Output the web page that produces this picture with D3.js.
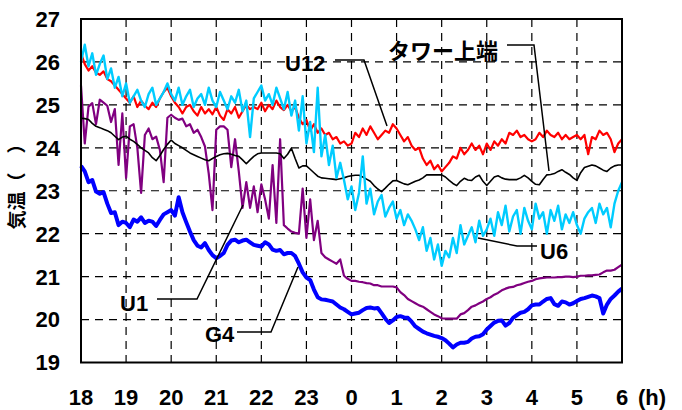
<!DOCTYPE html>
<html>
<head>
<meta charset="utf-8">
<style>
  body { margin: 0; background: #fff; }
  .tick-label { font-family: "Liberation Sans", Arial, sans-serif; font-weight: bold; font-size: 22px; fill: #000; }
  .note { font-family: "Liberation Sans", Arial, sans-serif; font-weight: bold; font-size: 22px; fill: #000; }
  .jp { font-family: "Noto Sans CJK JP", sans-serif; font-weight: bold; }
  .grid { stroke: #000; stroke-width: 1.2px; stroke-dasharray: 8,6; fill: none; }
  .leader { stroke: #000; stroke-width: 1.5px; fill: none; }
</style>
</head>
<body>
<svg id="chart" width="682" height="410"></svg>
<script src="https://cdn.jsdelivr.net/npm/d3@7/dist/d3.min.js"></script>
<script>
// logger samples every 5 minutes, from 18:00 to 06:00
var stepHours = 5 / 60;
var hourLabels = ["18","19","20","21","22","23","0","1","2","3","4","5","6"];
var yTicks = [19, 20, 21, 22, 23, 24, 25, 26, 27];

var u12 = [
  26.2,25.95,25.8,25.9,25.75,25.7,25.78,25.6,25.55,25.45,25.35,25.25,
  25.15,25.05,25.2,24.95,25.1,24.98,24.9,25.05,24.95,25.15,25.3,25.4,
  25.2,25.05,24.95,24.8,24.95,25.0,24.85,24.75,24.95,24.8,24.9,24.78,
  24.95,24.75,24.65,24.9,24.8,24.95,24.7,24.85,25.0,24.9,24.95,24.9,
  25.05,24.85,25.0,24.9,25.1,24.95,24.88,25.0,24.85,24.95,24.7,24.55,
  24.65,24.4,24.55,24.35,24.45,24.3,24.35,24.2,24.25,24.1,24.15,24.05,
  24.1,24.35,24.25,24.45,24.3,24.5,24.35,24.2,24.3,24.4,24.35,24.55,
  24.45,24.3,24.15,24.25,24.05,23.95,24.0,23.75,23.6,23.7,23.5,23.6,
  23.45,23.55,23.65,23.8,23.75,24.0,23.85,23.95,24.1,23.95,24.05,23.85,
  24.1,23.95,24.15,24.05,24.2,24.1,24.35,24.3,24.4,24.25,24.3,24.2,
  24.15,24.2,24.35,24.25,24.4,24.3,24.25,24.35,24.2,24.3,24.2,24.25,
  24.3,24.2,24.3,23.85,24.25,24.2,24.4,24.3,24.35,24.2,23.9,24.1,
  24.2
];

var u6 = [
  26.0,26.4,25.9,26.2,25.7,25.95,26.15,25.6,25.85,25.4,25.65,25.2,
  25.5,25.05,25.2,25.35,25.1,24.95,25.25,25.4,25.0,25.15,25.3,25.5,
  25.25,25.1,25.4,25.0,25.2,25.35,24.95,25.15,25.25,25.0,25.4,25.1,
  24.95,25.3,25.1,24.9,25.2,25.05,25.35,24.85,25.1,24.25,25.15,25.3,
  25.45,25.1,25.25,25.0,25.4,25.15,24.9,25.3,24.75,25.1,24.4,25.2,
  24.1,24.6,23.9,25.4,23.8,24.3,23.6,24.05,23.3,23.65,23.25,22.8,
  23.1,22.55,22.95,23.8,22.7,23.05,22.45,22.75,22.9,22.4,22.6,22.75,
  22.35,22.55,22.2,22.45,22.3,22.1,21.85,22.15,21.6,21.9,21.4,21.75,
  21.25,21.6,21.45,21.9,21.55,22.2,21.75,21.95,22.15,21.8,22.3,21.95,
  22.1,22.35,21.95,22.5,22.2,22.65,22.05,22.4,22.55,22.0,22.6,22.3,
  22.1,22.7,22.35,22.5,22.0,22.55,22.3,22.65,22.1,22.45,22.25,22.5,
  22.2,22.0,22.35,22.5,22.6,22.25,22.7,22.45,22.6,22.15,22.7,23.0,
  23.2
];

var tower = [
  24.69,24.68,24.66,24.57,24.5,24.47,24.43,24.4,24.35,24.27,24.19,24.25,
  24.27,24.2,24.15,24.08,24.0,23.94,23.88,23.77,23.7,23.82,23.96,24.08,
  24.18,24.1,24.05,24.0,23.94,23.88,23.84,23.8,23.76,23.72,23.7,23.75,
  23.8,23.84,23.86,23.87,23.85,23.82,23.8,23.72,23.63,23.72,23.8,23.86,
  23.88,23.88,23.88,23.88,23.88,23.86,23.75,23.85,23.99,23.75,23.53,23.58,
  23.58,23.5,23.42,23.34,23.3,23.29,23.28,23.27,23.26,23.28,23.3,23.33,
  23.35,23.36,23.36,23.32,23.27,23.22,23.12,23.04,22.98,23.06,23.15,23.23,
  23.24,23.2,23.16,23.14,23.18,23.22,23.25,23.3,23.37,23.37,23.37,23.37,
  23.37,23.32,23.24,23.17,23.12,23.22,23.29,23.25,23.24,23.32,23.36,23.22,
  23.12,23.22,23.32,23.35,23.3,23.27,23.26,23.26,23.26,23.3,23.36,23.3,
  23.22,23.15,23.14,23.26,23.37,23.38,23.4,23.45,23.49,23.43,23.38,23.3,
  23.24,23.42,23.54,23.57,23.6,23.58,23.53,23.48,23.45,23.53,23.58,23.6,
  23.6
];

var u1 = [
  25.45,24.1,24.96,25.04,24.55,25.12,25.05,24.98,24.6,24.9,23.6,24.8,
  23.3,24.5,24.55,24.0,22.95,24.3,24.45,24.2,24.26,23.95,23.2,24.7,
  24.77,24.7,24.65,24.68,24.5,24.55,24.35,24.42,24.25,24.03,23.4,22.55,
  24.42,24.5,24.5,24.42,23.55,24.2,23.45,22.6,23.2,22.6,23.1,22.5,
  23.15,22.8,22.35,23.6,22.25,24.2,22.2,22.12,22.05,22.02,22.0,23.05,
  21.9,22.8,21.85,22.3,21.55,21.45,21.4,21.35,21.3,21.4,21.02,20.95,
  20.9,20.9,20.88,20.87,20.85,20.84,20.8,20.8,20.77,20.77,20.77,20.77,
  20.75,20.64,20.57,20.48,20.43,20.38,20.33,20.3,20.24,20.18,20.12,20.08,
  20.03,20.02,20.02,20.02,20.02,20.12,20.15,20.22,20.3,20.33,20.38,20.42,
  20.48,20.52,20.58,20.62,20.68,20.72,20.75,20.76,20.8,20.82,20.85,20.88,
  20.9,20.94,20.96,20.97,20.98,20.98,20.98,20.99,20.99,21.0,21.0,20.99,
  21.0,21.02,21.02,21.03,21.03,21.04,21.05,21.1,21.14,21.14,21.16,21.22,
  21.28
];

var g4 = [
  23.58,23.45,23.2,23.25,22.98,22.93,22.97,22.7,22.48,22.5,22.2,22.28,
  22.25,22.15,22.33,22.28,22.38,22.25,22.3,22.28,22.18,22.32,22.45,22.5,
  22.55,22.42,22.85,22.5,22.27,22.05,21.85,21.72,21.68,21.78,21.62,21.5,
  21.43,21.48,21.55,21.74,21.84,21.86,21.8,21.84,21.86,21.8,21.74,21.72,
  21.7,21.8,21.75,21.63,21.6,21.62,21.52,21.55,21.55,21.48,21.3,21.1,
  20.98,20.92,20.7,20.52,20.47,20.46,20.44,20.42,20.35,20.28,20.24,20.18,
  20.12,20.14,20.16,20.22,20.27,20.28,20.26,20.27,20.15,20.02,19.92,19.98,
  20.06,20.08,20.05,20.04,19.95,19.84,19.78,19.72,19.68,19.65,19.62,19.6,
  19.57,19.52,19.44,19.35,19.42,19.46,19.46,19.48,19.56,19.6,19.61,19.66,
  19.77,19.85,19.93,19.97,19.98,19.86,19.92,20.04,20.1,20.16,20.18,20.24,
  20.33,20.35,20.35,20.42,20.48,20.5,20.36,20.32,20.42,20.4,20.35,20.38,
  20.43,20.48,20.5,20.53,20.56,20.54,20.5,20.14,20.35,20.48,20.56,20.65,
  20.72
];

var svg = d3.select("#chart");
var plotL = 81, plotR = 622, plotT = 19, plotB = 362.5;

var x = d3.scaleLinear().domain([0, 12]).range([plotL, plotR]);
var y = d3.scaleLinear().domain([19, 27]).range([plotB, plotT]);

// grid
svg.append("g").selectAll("line").data(d3.range(1, 12)).join("line")
  .attr("class", "grid")
  .attr("x1", function(d){ return x(d); }).attr("x2", function(d){ return x(d); })
  .attr("y1", plotT).attr("y2", plotB);
svg.append("g").selectAll("line").data(yTicks.slice(1, -1)).join("line")
  .attr("class", "grid")
  .attr("x1", plotL).attr("x2", plotR)
  .attr("y1", function(d){ return y(d); }).attr("y2", function(d){ return y(d); });

// series
var line = d3.line()
  .x(function(d, i){ return x(i * stepHours); })
  .y(function(d){ return y(d); });

var series = [
  { v: u1, color: "#800080", w: 2.2 },
  { v: tower, color: "#000000", w: 1.6 },
  { v: u12, color: "#ff0000", w: 2.2 },
  { v: u6, color: "#00ccff", w: 2.4 },
  { v: g4, color: "#0000ff", w: 4 }
];
svg.append("g").selectAll("path").data(series).join("path")
  .attr("d", function(d){ return line(d.v); })
  .attr("fill", "none")
  .attr("stroke", function(d){ return d.color; })
  .attr("stroke-width", function(d){ return d.w; })
  .attr("stroke-linejoin", "round");

// frame
svg.append("rect")
  .attr("x", plotL).attr("y", plotT)
  .attr("width", plotR - plotL).attr("height", plotB - plotT)
  .attr("fill", "none").attr("stroke", "#000").attr("stroke-width", 2);

// y tick labels
svg.append("g").selectAll("text").data(yTicks).join("text")
  .attr("class", "tick-label")
  .attr("x", 60).attr("y", function(d){ return y(d); })
  .attr("dy", "0.36em")
  .attr("text-anchor", "end")
  .text(function(d){ return d; });

// x tick labels
svg.append("g").selectAll("text").data(hourLabels).join("text")
  .attr("class", "tick-label")
  .attr("x", function(d, i){ return x(i); }).attr("y", 405)
  .attr("text-anchor", "middle")
  .text(function(d){ return d; });
svg.append("text").attr("class", "tick-label")
  .attr("x", 652).attr("y", 405).attr("text-anchor", "middle").text("(h)");

// y title
svg.append("text")
  .attr("class", "jp")
  .attr("transform", "translate(24,182) rotate(-90)")
  .attr("text-anchor", "middle")
  .attr("font-size", 19)
  .text("気温（　）");

// annotations
var notes = [
  { t: "U12", x: 285, y: 71, pts: [[335,60],[364,60],[387,126]] },
  { t: "U6", x: 540, y: 259, pts: [[478,238],[517,246],[537,246]] },
  { t: "U1", x: 120, y: 311, pts: [[157,299],[197,299],[243,205]] },
  { t: "G4", x: 205, y: 342, pts: [[237,332],[271,332],[298,267]] }
];
var leader = d3.line();
notes.forEach(function(n){
  svg.append("text").attr("class", "note").attr("x", n.x).attr("y", n.y).text(n.t);
  svg.append("path").attr("class", "leader").attr("d", leader(n.pts));
});
svg.append("text").attr("class", "jp")
  .attr("x", 388).attr("y", 59).attr("font-size", 22).text("タワー上端");
svg.append("path").attr("class", "leader").attr("d", leader([[507,45],[534,45],[549,171]]));
</script>
</body>
</html>
